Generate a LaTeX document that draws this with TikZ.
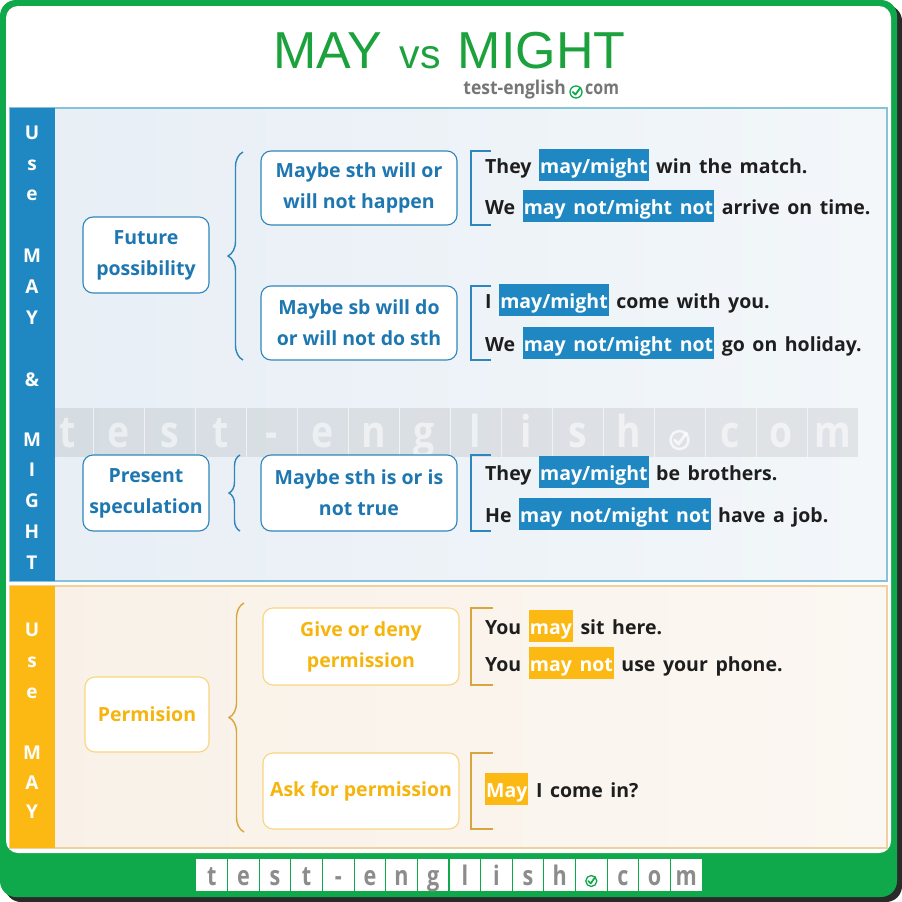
\documentclass[tikz,border=0pt]{standalone}
\usepackage{fontspec}
\usepackage{graphicx}
\setmainfont{Open Sans}
\newfontfamily\titlefont{Liberation Sans}
\usetikzlibrary{decorations.pathreplacing,calc}
\definecolor{gborder}{HTML}{0FA84B}
\definecolor{gtitle}{HTML}{1CA23C}
\definecolor{shadowc}{HTML}{2A2A2A}
\definecolor{bstrip}{HTML}{1F88C2}
\definecolor{btext}{HTML}{1E77B0}
\definecolor{bline}{HTML}{2F86BC}
\definecolor{bsecborder}{HTML}{86C2D8}
\definecolor{bbgA}{HTML}{E7EEF5}
\definecolor{bbgB}{HTML}{F3F7FA}
\definecolor{ostrip}{HTML}{FDB913}
\definecolor{otext}{HTML}{F6B50E}
\definecolor{oline}{HTML}{D9A53E}
\definecolor{oboxline}{HTML}{F9D580}
\definecolor{osecborder}{HTML}{F0D09E}
\definecolor{obgA}{HTML}{F9F1E7}
\definecolor{obgB}{HTML}{FBF7F2}
\definecolor{dtext}{HTML}{1E1E1E}
\definecolor{logogray}{HTML}{767676}
\definecolor{footgray}{HTML}{8C8C8C}
\newcommand\hlb[1]{{\setlength{\fboxsep}{0pt}\colorbox{bstrip}{\rule[-8pt]{0pt}{32pt}\kern1pt\textcolor{white}{#1}\kern1pt}}}
\newcommand\hlo[1]{{\setlength{\fboxsep}{0pt}\colorbox{ostrip}{\rule[-8pt]{0pt}{32pt}\kern1pt\textcolor{white}{#1}\kern1pt}}}
\newcommand\sentfont{\fontsize{19.5}{22}\selectfont\bfseries\setlength{\spaceskip}{7.6pt plus 1pt}}
\tikzset{
  stripletter/.style={text=white, font=\fontsize{19}{20}\selectfont\bfseries, inner sep=0},
  bbox/.style={draw=bline, line width=1.1, fill=white, rounded corners=10, align=center, text=btext,
     font=\fontsize{19.5}{31}\selectfont\bfseries, inner sep=0},
  obox/.style={draw=oboxline, line width=1.1, fill=white, rounded corners=10, align=center, text=otext,
     font=\fontsize{19.5}{31}\selectfont\bfseries, inner sep=0},
  sent/.style={anchor=base west, inner sep=0, text=dtext},
  bbrace/.style={draw=bline, line width=1.4, decorate},
  obrace/.style={draw=oline, line width=1.4, decorate},
  bbrack/.style={draw=bline, line width=2},
  obrack/.style={draw=oline, line width=2},
  wmletter/.style={text=white, opacity=0.55, font=\fontsize{44}{44}\selectfont\bfseries, inner sep=0},
  ftletter/.style={text=footgray, font=\fontsize{27}{27}\selectfont\bfseries, inner sep=0},
  logotext/.style={inner sep=0, text=logogray, font=\fontsize{19}{19}\selectfont\bfseries},
}
\begin{document}
\begin{tikzpicture}[x=1pt,y=-1pt]
\useasboundingbox (0,0) rectangle (902,902);
\fill[white] (0,0) rectangle (902,902);
% frame
\fill[shadowc, rounded corners=16] (5,5) rectangle (902,902);
\fill[gborder, rounded corners=16] (0,0) rectangle (897,897);
\fill[white, rounded corners=12] (6,6) rectangle (891,853);

% title
\node[anchor=base, inner sep=0, text=gtitle] (title) at (449.5,68)
  {\titlefont\fontsize{52}{52}\selectfont MAY\,\,{\fontsize{41}{41}\selectfont vs}\,\,MIGHT};
\node[logotext, anchor=base east] (logo1) at (566,94) {\scalebox{0.92}[1]{test-english}};
\node[logotext, anchor=base west] (logo2) at (585,94) {\scalebox{0.84}[1]{com}};
\coordinate (lc) at (576,92);
\draw[gborder, line width=1.3] (lc) circle (6);
\draw[gborder, line width=1.8, line cap=round, line join=round] ($(lc)+(-3.2,0)$) -- ($(lc)+(-0.6,2.6)$) -- ($(lc)+(4.5,-4.5)$);

% sections
\shade[left color=bbgA, right color=bbgB] (10,108) rectangle (887,581);
\draw[bsecborder, line width=1.5] (10,108) rectangle (887,581);
\shade[left color=obgA, right color=obgB] (10,586) rectangle (887,848);
\draw[osecborder, line width=1.5] (10,586) rectangle (887,848);

% watermark band
\fill[black, opacity=0.075] (42,408) rectangle (858,457);
\foreach \k in {1,...,15} \draw[white, opacity=0.6, line width=0.8] (42+51*\k,408) -- (42+51*\k,457);
\foreach \l [count=\i from 0] in {t,e,s,t,-,e,n,g,l,i,s,h,X,c,o,m} {
  \ifnum\i=12
    \coordinate (wmc) at (42+51*\i+25.5,440);
    \draw[white, opacity=0.7, line width=2.5] (wmc) circle (9);
    \draw[white, opacity=0.7, line width=3, line cap=round, line join=round] ($(wmc)+(-5,0)$) -- ($(wmc)+(-1,4)$) -- ($(wmc)+(7,-7)$);
  \else
    \node[wmletter, anchor=base] (wm\i) at (42+51*\i+25.5,447) {\scalebox{0.85}[1]{\l}};
  \fi
}

% strips
\fill[bstrip] (10,108) rectangle (55,581);
\fill[ostrip] (10,586) rectangle (55,848);
\foreach \l/\yy [count=\i] in {U/133,s/165,e/195,M/256,A/287,Y/318,\&/380,M/440,I/470,G/501,H/532,T/563}
  \node[stripletter] (sb\i) at (32,\yy) {\l};
\foreach \l/\yy [count=\i] in {U/630,s/662,e/693,M/753,A/783,Y/812}
  \node[stripletter] (so\i) at (32,\yy) {\l};

% left boxes
\node[bbox, minimum width=126, minimum height=76] (fp) at (146,255) {Future\\possibility};
\node[bbox, minimum width=126, minimum height=76] (ps) at (146,493) {Present\\speculation};
\node[obox, minimum width=124, minimum height=75] (pm) at (147,714.5) {Permision};

% middle boxes
\node[bbox, minimum width=196, minimum height=74] (m1) at (359,188) {Maybe sth will or\\will not happen};
\node[bbox, minimum width=196, minimum height=74] (m2) at (359,323) {Maybe sb will do\\or will not do sth};
\node[bbox, minimum width=196, minimum height=76] (m3) at (359,493) {Maybe sth is or is\\not true};
\node[obox, minimum width=196, minimum height=77] (o1) at (361,646.5) {Give or deny\\permission};
\node[obox, minimum width=196, minimum height=76] (o2) at (361,791) {Ask for permission};

% braces
\coordinate (br1t) at (243,152); \coordinate (br1b) at (243,360);
\coordinate (br2t) at (240,455); \coordinate (br2b) at (240,531);
\coordinate (br3t) at (244,603); \coordinate (br3b) at (244,832);
\draw[bbrace, decoration={brace, amplitude=15pt}] (br1b) -- (br1t);
\draw[bbrace, decoration={brace, amplitude=11pt}] (br2b) -- (br2t);
\draw[obrace, decoration={brace, amplitude=15pt}] (br3b) -- (br3t);

% brackets
\draw[bbrack] (491,151) -- (471,151) -- (471,225) -- (491,225);
\draw[bbrack] (491,286) -- (471,286) -- (471,360) -- (491,360);
\draw[bbrack] (491,455) -- (471,455) -- (471,531) -- (491,531);
\draw[obrack] (493,608) -- (471,608) -- (471,685) -- (493,685);
\draw[obrack] (493,753) -- (471,753) -- (471,829) -- (493,829);

% sentences
\node[sent] (s1) at (485,173) {\sentfont They \hlb{may/might} win the match.};
\node[sent] (s2) at (485,214) {\sentfont We \hlb{may not/might not} arrive on time.};
\node[sent] (s3) at (485,308) {\sentfont I \hlb{may/might} come with you.};
\node[sent] (s4) at (485,351) {\sentfont We \hlb{may not/might not} go on holiday.};
\node[sent] (s5) at (485,480) {\sentfont They \hlb{may/might} be brothers.};
\node[sent] (s6) at (485,522) {\sentfont He \hlb{may not/might not} have a job.};
\node[sent] (s7) at (485,634) {\sentfont You \hlo{may} sit here.};
\node[sent] (s8) at (485,671) {\sentfont You \hlo{may not} use your phone.};
\node[sent] (s9) at (485,797) {\sentfont \hlo{May} I come in?};

% footer
\fill[white] (196,859) rectangle (702,891);
\foreach \k in {1,...,15} \draw[gborder, line width=1.2] (196+31.625*\k,859) -- (196+31.625*\k,891);
\foreach \l [count=\i from 0] in {t,e,s,t,-,e,n,g,l,i,s,h,X,c,o,m} {
  \ifnum\i=12
    \coordinate (ftc) at (196+31.625*\i+15.8,881);
    \draw[gborder, line width=1.3] (ftc) circle (5.5);
    \draw[gborder, line width=1.7, line cap=round, line join=round] ($(ftc)+(-3,0)$) -- ($(ftc)+(-0.6,2.4)$) -- ($(ftc)+(4,-4)$);
  \else
    \node[ftletter, anchor=base] (ft\i) at (196+31.625*\i+15.8,885) {\scalebox{0.8}[1]{\l}};
  \fi
}
\end{tikzpicture}
\end{document}
